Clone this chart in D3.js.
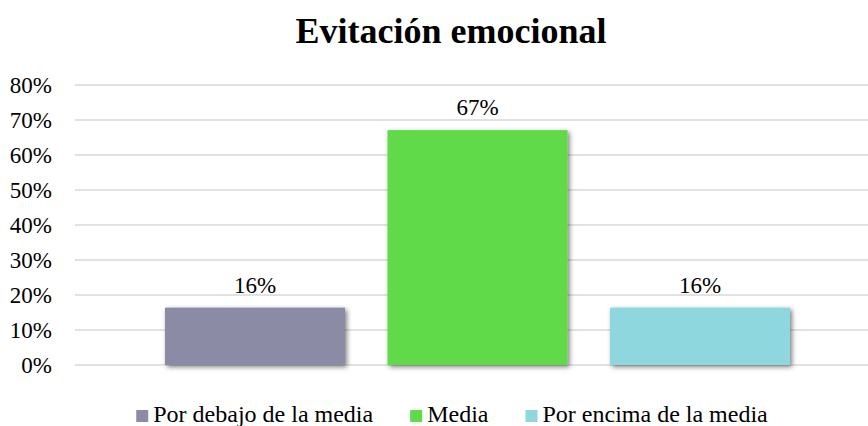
<!DOCTYPE html>
<html>
<head>
    <meta charset="utf-8" />
    <title>Evitación emocional</title>
    <style>
        body { margin: 0; background: #fff; }
        text { font-family: "Liberation Serif", "Times New Roman", serif; fill: #000; }
        .grid line { stroke: #d9d9d9; stroke-width: 1.5px; }
    </style>
</head>
<body>
<svg width="868" height="426"></svg>
<script src="https://d3js.org/d3.v7.min.js"></script>
<script>

    var categories = ["Por debajo de la media", "Media", "Por encima de la media"];
    var values = [0.164, 0.671, 0.164];
    var colors = ["#8c8ba5", "#61da48", "#8ed7de"];
    var yTicks = [0, 0.1, 0.2, 0.3, 0.4, 0.5, 0.6, 0.7, 0.8];

    var serif = "'Liberation Serif', 'Times New Roman', serif";
    var svg = d3.select("svg");

    var defs = svg.append("defs");
    defs.append("filter")
        .attr("id", "shadow")
        .attr("x", "-10%").attr("y", "-10%")
        .attr("width", "130%").attr("height", "130%")
        .append("feDropShadow")
        .attr("dx", 2).attr("dy", 2)
        .attr("stdDeviation", 2.4)
        .attr("flood-color", "#000")
        .attr("flood-opacity", 0.5);

    var x = d3.scaleBand()
        .domain(categories)
        .range([143.75, 811.25])
        .paddingInner(0.191)
        .paddingOuter(0.0955);

    var y = d3.scaleLinear()
        .domain([0, 0.8])
        .range([365, 85]);

    // title
    svg.append("text")
        .attr("x", 451)
        .attr("y", 43)
        .attr("text-anchor", "middle")
        .attr("font-family", serif)
        .style("font-size", "36px")
        .style("font-weight", "bold")
        .text("Evitación emocional");

    // gridlines
    svg.append("g")
        .attr("class", "grid")
        .selectAll("line")
        .data(yTicks)
        .enter().append("line")
        .attr("x1", 75)
        .attr("x2", 868)
        .attr("y1", function(d) { return y(d); })
        .attr("y2", function(d) { return y(d); });

    // y axis labels
    var fmt = d3.format(".0%");
    var yAxis = d3.axisLeft(y).tickValues(yTicks).tickFormat(fmt).tickSize(0).tickPadding(0);
    var ya = svg.append("g")
        .attr("transform", "translate(52,0)")
        .call(yAxis)
        .attr("font-family", serif)
        .attr("font-size", 23);
    ya.select(".domain").remove();
    ya.selectAll("text")
        .attr("dy", "0.34em")
        .attr("fill", "#000");

    // bars
    svg.append("g")
        .selectAll("rect")
        .data(values)
        .enter().append("rect")
        .attr("x", function(d, i) { return x(categories[i]); })
        .attr("y", function(d) { return y(d); })
        .attr("width", x.bandwidth())
        .attr("height", function(d) { return y(0) - y(d); })
        .attr("fill", function(d, i) { return colors[i]; })
        .attr("filter", "url(#shadow)");

    // value labels
    svg.append("g")
        .attr("font-family", serif)
        .selectAll("text")
        .data(values)
        .enter().append("text")
        .attr("x", function(d, i) { return x(categories[i]) + x.bandwidth() / 2; })
        .attr("y", function(d) { return y(d) - 15; })
        .attr("text-anchor", "middle")
        .style("font-size", "23px")
        .text(function(d) { return fmt(d); });

    // legend
    var legend = svg.append("g").attr("font-family", serif);
    var cursor = 0;
    categories.forEach(function(c, i) {
        var item = legend.append("g").attr("transform", "translate(" + cursor + ",0)");
        item.append("rect")
            .attr("x", 0).attr("y", 410)
            .attr("width", 12).attr("height", 12)
            .attr("fill", colors[i]);
        var t = item.append("text")
            .attr("x", 17)
            .attr("y", 422)
            .style("font-size", "24px")
            .text(c);
        cursor += 17 + t.node().getComputedTextLength() + 37;
    });
    var legendWidth = cursor - 37;
    legend.attr("transform", "translate(" + (452 - legendWidth / 2) + ",0)");

</script>
</body>
</html>
